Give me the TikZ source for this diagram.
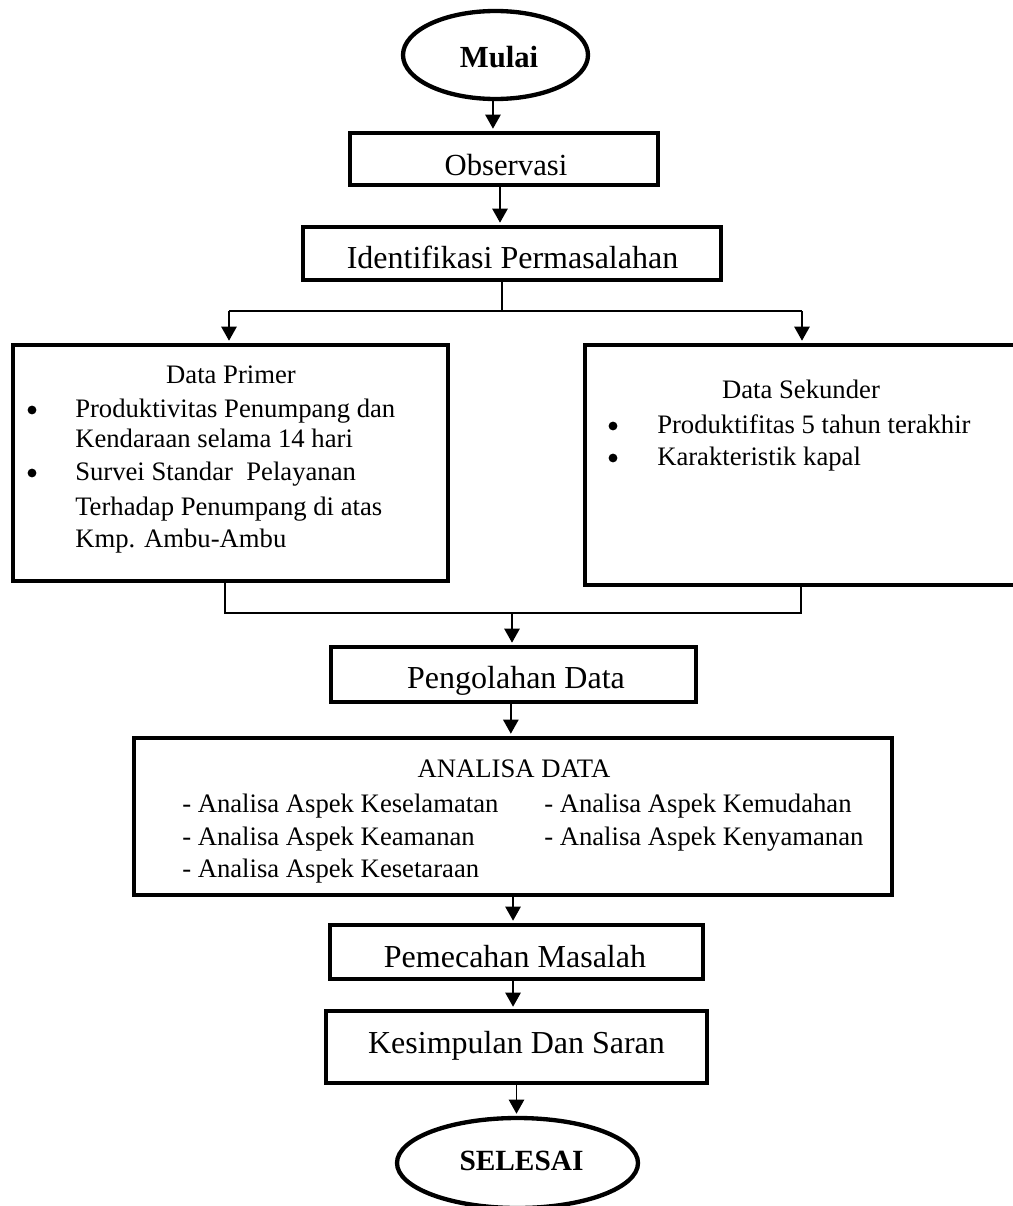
\documentclass[tikz,border=0pt]{standalone}
\usepackage{fontspec}
\setmainfont{Liberation Serif}
\usetikzlibrary{arrows.meta,shapes.geometric}

\tikzset{
  procbox/.style={draw, line width=3.25pt, rectangle, inner sep=0pt},
  termbox/.style={draw, line width=3.25pt, ellipse, inner sep=0pt},
  link/.style={line width=1.1pt},
  arr/.style={line width=1.1pt, -{Triangle[length=10.5pt,width=11.5pt]}, shorten >=1.6pt},
  dot/.style={circle, fill, inner sep=0pt, minimum size=6.6pt},
  bigtxt/.style={inner sep=0pt, font=\fontsize{24}{28}\selectfont},
  smalltxt/.style={inner sep=0pt, font=\fontsize{20}{24}\selectfont},
  endtxt/.style={inner sep=0pt, font=\fontsize{22}{26}\selectfont\bfseries},
}

\begin{document}
\begin{tikzpicture}[x=0.75pt,y=0.75pt,yscale=-1,xscale=1]
\useasboundingbox (0,0) rectangle (1013,1206);

%Shape: Ellipse [mulai]
\node[termbox, minimum width=138.75pt, minimum height=66pt] (mulai) at (495.5,55) {};
%Shape: Rectangle [observasi]
\node[procbox, minimum width=231pt, minimum height=39pt] (obs) at (504,159) {};
%Shape: Rectangle [identifikasi]
\node[procbox, minimum width=313.5pt, minimum height=39.75pt] (ident) at (512,253.5) {};
%Shape: Rectangle [data primer]
\node[procbox, minimum width=326.25pt, minimum height=177pt] (primer) at (230.5,463) {};
%Shape: Rectangle [data sekunder]
\node[procbox, minimum width=330pt, minimum height=180pt] (sekunder) at (805,465) {};
%Shape: Rectangle [pengolahan]
\node[procbox, minimum width=273.75pt, minimum height=41.25pt] (olah) at (513.5,674.5) {};
%Shape: Rectangle [analisa]
\node[procbox, minimum width=568.5pt, minimum height=117.75pt] (analisa) at (513,816.5) {};
%Shape: Rectangle [pemecahan]
\node[procbox, minimum width=279.75pt, minimum height=40.5pt] (pecah) at (516.5,952) {};
%Shape: Rectangle [kesimpulan]
\node[procbox, minimum width=285.75pt, minimum height=54pt] (simpul) at (516.5,1047) {};
%Shape: Ellipse [selesai]
\node[termbox, minimum width=180.75pt, minimum height=67.5pt] (selesai) at (517.5,1163) {};

%Junction points
\coordinate (splitL) at (229,311);
\coordinate (splitM) at (502,311);
\coordinate (splitR) at (802,311);
\coordinate (mergeL) at (225,613);
\coordinate (mergeM) at (512,613);
\coordinate (mergeR) at (801,613);

%Straight Lines
\draw[arr] ([xshift=-1.9pt]mulai.south) -- ([xshift=-1.9pt]mulai.south |- obs.north);
\draw[arr] ([xshift=-3pt]obs.south) -- ([xshift=-3pt]obs.south |- ident.north);
\draw[link] (splitM |- ident.south) -- (splitM);
\draw[link] (splitL) -- (splitR);
\draw[arr] (splitL) -- (splitL |- primer.north);
\draw[arr] (splitR) -- (splitR |- sekunder.north);
\draw[link] (mergeL |- primer.south) -- (mergeL) -- (mergeR) -- (mergeR |- sekunder.south);
\draw[arr] (mergeM) -- (mergeM |- olah.north);
\draw[arr] ([xshift=-2pt]olah.south) -- ([xshift=-2pt]olah.south |- analisa.north);
\draw[arr] ([xshift=-2.6pt]pecah.north |- analisa.south) -- ([xshift=-2.6pt]pecah.north);
\draw[arr] ([xshift=-2.6pt]pecah.south) -- ([xshift=-2.6pt]pecah.south |- simpul.north);
\draw[arr] (simpul.south) -- (simpul.south |- selesai.north);

% Text Node
\node[endtxt, anchor=base, font=\fontsize{23}{27}\selectfont\bfseries] (mulaitxt) at (499,68) {Mulai};
% Text Node
\node[bigtxt, anchor=base, font=\fontsize{23}{27}\selectfont] (obstxt) at (506,175) {Observasi};
% Text Node
\node[bigtxt, anchor=base] (identtxt) at (512.5,268) {Identifikasi Permasalahan};
% Text Node
\node[smalltxt, anchor=base] (primertxt) at (231,383) {Data Primer};
\node[dot] (pbul1) at (32,410) {};
\node[smalltxt, anchor=base west] (pitem1) at (75,417) {Produktivitas Penumpang dan};
\node[smalltxt, anchor=base west] (pitem1b) at (75,447) {Kendaraan selama 14 hari};
\node[dot] (pbul2) at (32,473) {};
\node[smalltxt, anchor=base west] (pitem2) at (75,480) {Survei Standar\ \ Pelayanan};
\node[smalltxt, anchor=base west] (pitem2b) at (75,515) {Terhadap Penumpang di atas};
\node[smalltxt, anchor=base west] (pitem2c) at (75,547) {Kmp. Ambu-Ambu};
% Text Node
\node[smalltxt, anchor=base] (sekundertxt) at (801,398) {Data Sekunder};
\node[dot] (sbul1) at (613,426) {};
\node[smalltxt, anchor=base west] (sitem1) at (657,433) {Produktifitas 5 tahun terakhir};
\node[dot] (sbul2) at (613,458) {};
\node[smalltxt, anchor=base west] (sitem2) at (657,465) {Karakteristik kapal};
% Text Node
\node[bigtxt, anchor=base] (olahtxt) at (516,688) {Pengolahan Data};
% Text Node
\node[smalltxt, anchor=base] (analisatxt) at (514,777) {ANALISA DATA};
\node[smalltxt, anchor=base west] (aitem1) at (182,812) {- Analisa Aspek Keselamatan};
\node[smalltxt, anchor=base west] (aitem2) at (182,845) {- Analisa Aspek Keamanan};
\node[smalltxt, anchor=base west] (aitem3) at (182,877) {- Analisa Aspek Kesetaraan};
\node[smalltxt, anchor=base west] (aitem4) at (544,812) {- Analisa Aspek Kemudahan};
\node[smalltxt, anchor=base west] (aitem5) at (544,845) {- Analisa Aspek Kenyamanan};
% Text Node
\node[bigtxt, anchor=base] (pecahtxt) at (515,967) {Pemecahan Masalah};
% Text Node
\node[bigtxt, anchor=base] (simpultxt) at (516.5,1053) {Kesimpulan Dan Saran};
% Text Node
\node[endtxt, anchor=base] (selesaitxt) at (521.5,1170) {SELESAI};
\end{tikzpicture}
\end{document}
